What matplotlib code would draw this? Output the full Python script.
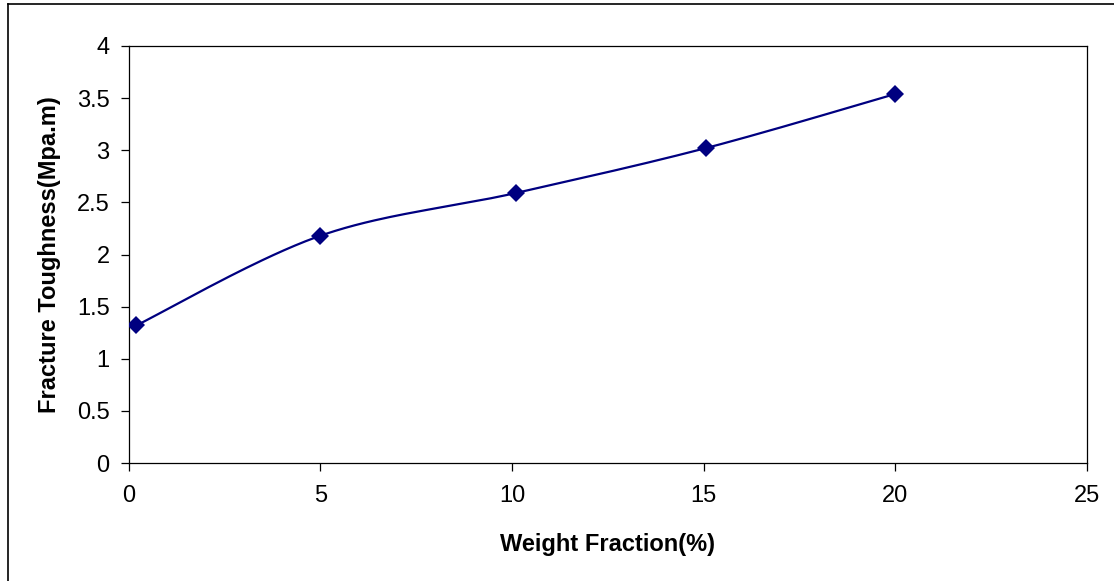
import numpy as np
import matplotlib
matplotlib.use("Agg")
import matplotlib.pyplot as plt
from matplotlib.ticker import FuncFormatter
from matplotlib.lines import Line2D

# ---- data ----
weight_fraction = [0.2, 5.0, 10.1, 15.05, 20.0]
fracture_toughness = [1.32, 2.18, 2.59, 3.02, 3.54]
x_label = "Weight Fraction(%)"
y_label = "Fracture Toughness(Mpa.m)"
x_ticks = [0, 5, 10, 15, 20, 25]
y_ticks = [0, 0.5, 1, 1.5, 2, 2.5, 3, 3.5, 4]

plt.rcParams['font.family'] = ['Liberation Sans', 'DejaVu Sans']

W, H = 1114, 581
fig = plt.figure(figsize=(W / 100, H / 100), dpi=100)
fig.patch.set_facecolor("white")

ax = fig.add_axes([128.7 / W, 1 - 463 / H, (1087 - 128.7) / W, (463 - 46) / H])


def excel_smooth(xs, ys, n=40):
    """Bezier smoothing like spreadsheet 'smoothed line'."""
    p = np.column_stack([xs, ys]).astype(float)
    m = len(p)
    out = []
    for i in range(m - 1):
        p0 = p[i - 1] if i > 0 else p[i]
        p1 = p[i]
        p2 = p[i + 1]
        p3 = p[i + 2] if i + 2 < m else p[i + 1]
        c1 = p1 + (p2 - p0) / 6.0
        c2 = p2 - (p3 - p1) / 6.0
        t = np.linspace(0, 1, n)[:, None]
        seg = ((1 - t) ** 3) * p1 + 3 * ((1 - t) ** 2) * t * c1 + 3 * (1 - t) * t ** 2 * c2 + t ** 3 * p2
        if i > 0:
            seg = seg[1:]
        out.append(seg)
    return np.vstack(out)


curve = excel_smooth(weight_fraction, fracture_toughness)
ax.plot(curve[:, 0], curve[:, 1], color="#000080", lw=1.6, solid_capstyle="round", zorder=3)
ax.plot(weight_fraction, fracture_toughness, linestyle="none", marker="D",
        markersize=9.5, color="#000080", markeredgewidth=0, zorder=4)

ax.set_xlim(0, 25)
ax.set_ylim(0, 4)
ax.set_xticks(x_ticks)
ax.set_yticks(y_ticks)
fmt = FuncFormatter(lambda v, pos: "%g" % v)
ax.xaxis.set_major_formatter(fmt)
ax.yaxis.set_major_formatter(fmt)

for s in ax.spines.values():
    s.set_color("black")
    s.set_linewidth(0.9)

ax.tick_params(axis="both", direction="out", length=5.8, width=0.9, color="black",
               labelsize=17, labelcolor="black")
ax.tick_params(axis="x", pad=10)
ax.tick_params(axis="y", pad=8)

ax.set_xlabel(x_label, fontsize=17, fontweight="bold")
ax.set_ylabel(y_label, fontsize=17, fontweight="bold")
ax.xaxis.set_label_coords(0.5, -0.168)
ax.yaxis.set_label_coords(-0.071, 0.5)

# outer chart border (left and top visible)
fig.add_artist(Line2D([8 / W, 8 / W], [0, 1 - 4 / H], transform=fig.transFigure,
                      color="black", lw=1.2))
fig.add_artist(Line2D([8 / W, 1], [1 - 4 / H, 1 - 4 / H], transform=fig.transFigure,
                      color="black", lw=1.2))

fig.savefig("out.png", dpi=100, facecolor="white")
